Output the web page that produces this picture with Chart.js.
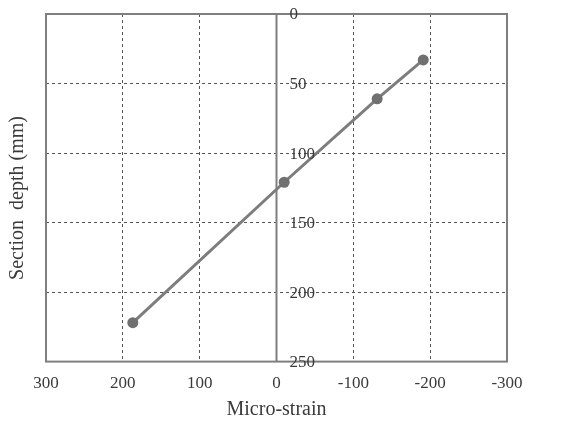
<!DOCTYPE html>
<html>
<head>
<meta charset="utf-8">
<script src="https://cdn.jsdelivr.net/npm/chart.js@4.4.1/dist/chart.umd.min.js"></script>
<style>
  html, body { margin: 0; padding: 0; background: #fff; }
  #wrap { width: 566px; height: 423px; }
</style>
</head>
<body>
<div id="wrap"><canvas id="c" width="566" height="423"></canvas></div>
<script>
// Strain profile through the section depth
const strain = [187, -10, -131, -191];
const depth = [222, 121, 61, 33];
const xTicks = [300, 200, 100, 0, -100, -200, -300];
const yTicks = [0, 50, 100, 150, 200, 250];
const xTitle = 'Micro-strain';
const yTitle = 'Section  depth (mm)';

const serif = '"Liberation Serif", "DejaVu Serif", serif';
const textColor = '#3a3a3a';
const frameColor = '#7f7f7f';

// Frame, zero-strain axis, depth labels and both axis titles
const overlay = {
  id: 'overlay',
  afterDraw(chart) {
    const { ctx, chartArea: a, scales: { x, y } } = chart;
    ctx.save();
    ctx.strokeStyle = frameColor;
    ctx.lineWidth = 2;
    ctx.strokeRect(a.left, a.top, a.right - a.left, a.bottom - a.top);
    const x0 = x.getPixelForValue(0);
    ctx.beginPath();
    ctx.moveTo(x0, a.top);
    ctx.lineTo(x0, a.bottom);
    ctx.stroke();

    ctx.fillStyle = textColor;
    ctx.font = '17px ' + serif;
    ctx.textAlign = 'left';
    ctx.textBaseline = 'middle';
    yTicks.forEach(v => {
      ctx.fillText(String(v), x0 + 13, y.getPixelForValue(v) + 1);
    });

    ctx.font = '20px ' + serif;
    ctx.textAlign = 'center';
    ctx.fillText(xTitle, (a.left + a.right) / 2, 410);

    ctx.translate(18, 198);
    ctx.rotate(-Math.PI / 2);
    ctx.fillText(yTitle, 0, 0);
    ctx.restore();
  }
};

new Chart(document.getElementById('c'), {
  type: 'line',
  data: {
    datasets: [{
      data: strain.map((s, i) => ({ x: s, y: depth[i] })),
      borderColor: '#7d7d7d',
      backgroundColor: '#707070',
      borderWidth: 3,
      pointRadius: 5.5,
      pointBorderWidth: 0,
      pointBackgroundColor: '#707070',
      tension: 0
    }]
  },
  options: {
    responsive: false,
    animation: false,
    layout: { padding: { left: 46, right: 59, top: 14, bottom: 17 } },
    plugins: { legend: { display: false }, tooltip: { enabled: false } },
    scales: {
      x: {
        type: 'linear',
        reverse: true,
        min: xTicks[xTicks.length - 1],
        max: xTicks[0],
        afterBuildTicks(scale) { scale.ticks = xTicks.map(v => ({ value: v })); },
        ticks: {
          color: textColor,
          font: { family: serif, size: 17 },
          padding: 12,
          maxRotation: 0,
          callback: v => String(v)
        },
        grid: {
          drawTicks: false,
          color: ctx => (ctx.tick && (ctx.tick.value === 0 || Math.abs(ctx.tick.value) === 300)) ? 'rgba(0,0,0,0)' : '#555',
          lineWidth: 1
        },
        border: { display: false, dash: [3, 3] },
        title: { display: false }
      },
      y: {
        type: 'linear',
        reverse: true,
        min: yTicks[0],
        max: yTicks[yTicks.length - 1],
        display: true,
        afterBuildTicks(scale) { scale.ticks = yTicks.map(v => ({ value: v })); },
        afterFit(scale) { scale.width = 0; },
        ticks: { display: false },
        grid: {
          drawTicks: false,
          color: ctx => (ctx.tick && (ctx.tick.value === 0 || ctx.tick.value === 250)) ? 'rgba(0,0,0,0)' : '#555',
          lineWidth: 1
        },
        border: { display: false, dash: [3, 3] }
      }
    }
  },
  plugins: [overlay]
});
</script>
</body>
</html>
